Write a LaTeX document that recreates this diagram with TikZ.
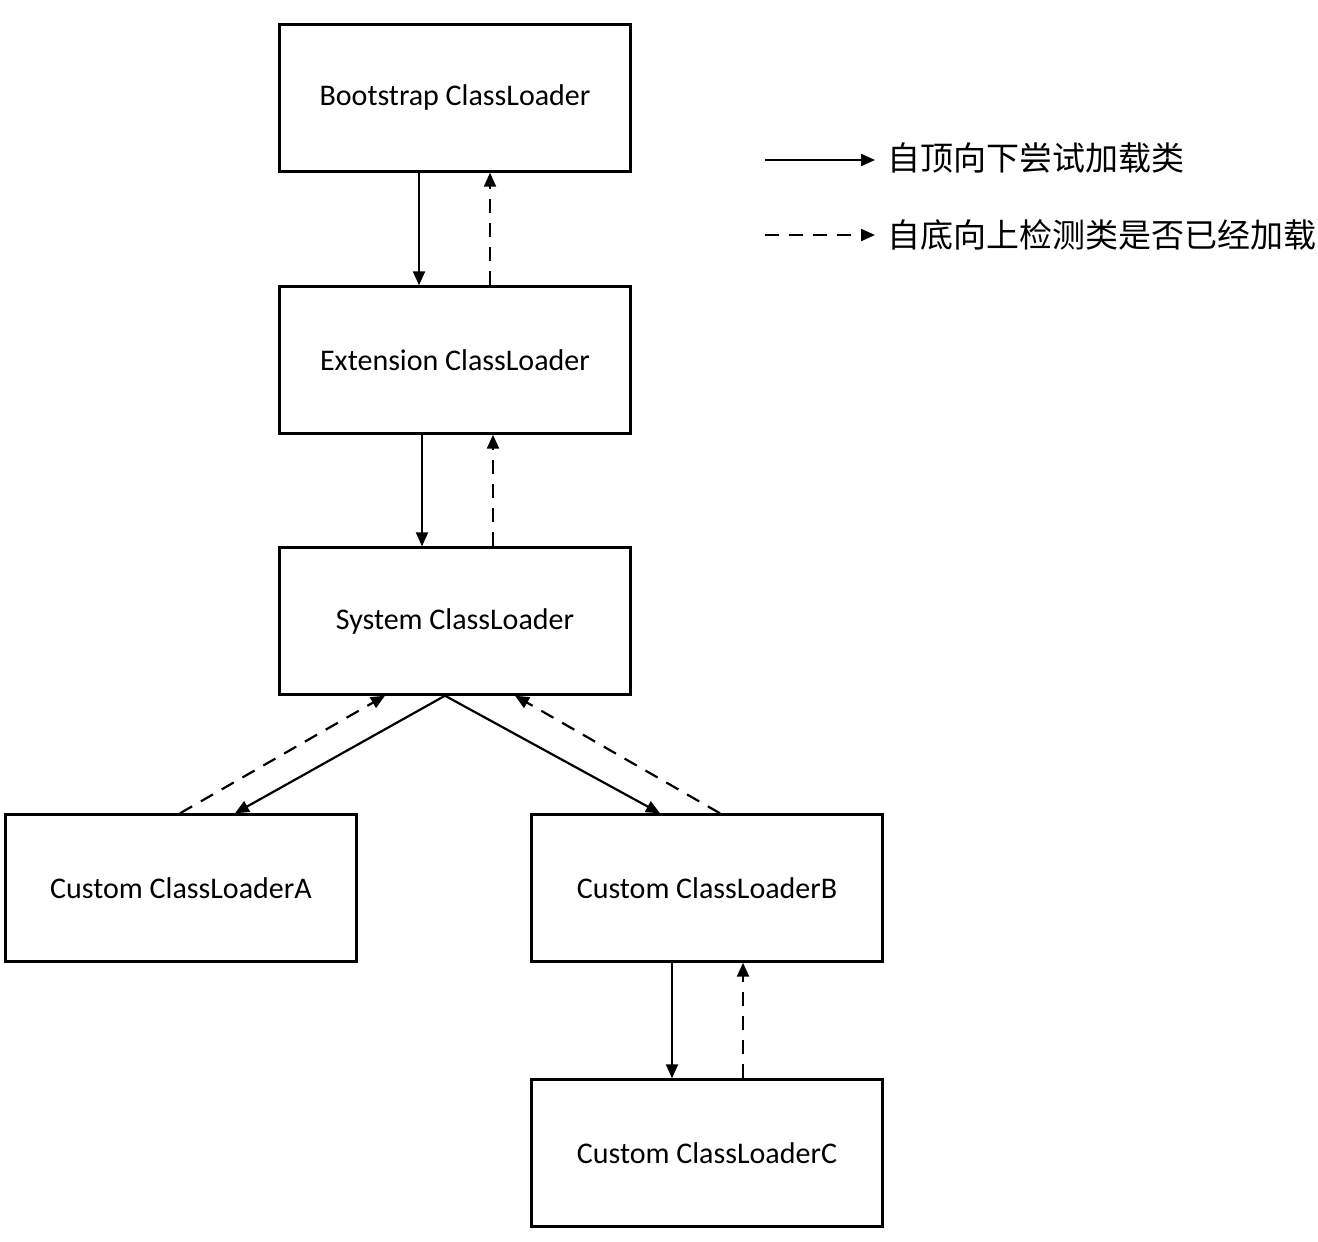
\documentclass[tikz,border=0pt]{standalone}
\usepackage{fontspec}
\setmainfont{Carlito}
\newfontfamily\cjk{Noto Sans CJK SC}
\usetikzlibrary{arrows.meta}
\begin{document}
\begin{tikzpicture}[x=0.5pt,y=-0.5pt,
  box/.style={draw,line width=1.2pt,minimum width=175.5pt,minimum height=73.5pt,inner sep=0pt,font=\fontsize{15}{18}\selectfont},
  con/.style={line width=1.1pt,-{Triangle[length=7pt,width=6pt]}},
  dsh/.style={con,dash pattern=on 7pt off 5pt},
  lab/.style={anchor=west,font=\cjk\fontsize{16.5}{20}\selectfont,inner sep=0pt}]
\useasboundingbox (0,0) rectangle (1318,1242);
\node[box] (boot) at (455,98) {Bootstrap ClassLoader};
\node[box] (ext) at (455,360) {Extension ClassLoader};
\node[box] (sys) at (455,621) {System ClassLoader};
\node[box] (a) at (181,888) {Custom ClassLoaderA};
\node[box] (b) at (707,888) {Custom ClassLoaderB};
\node[box] (c) at (707,1153) {Custom ClassLoaderC};
\draw[con] ([xshift=-18pt]boot.south) -- ([xshift=-18pt]ext.north);
\draw[dsh] ([xshift=17.5pt]ext.north) -- ([xshift=17.5pt]boot.south);
\draw[con] ([xshift=-16.5pt]ext.south) -- ([xshift=-16.5pt]sys.north);
\draw[dsh] ([xshift=19pt]sys.north) -- ([xshift=19pt]ext.south);
\coordinate (sp) at ([xshift=-5pt]sys.south);
\draw[con] (sp) -- ([xshift=27pt]a.north);
\draw[dsh] ([xshift=-0.5pt]a.north) -- ([xshift=-35pt]sys.south);
\draw[con] (sp) -- ([xshift=-23.5pt]b.north);
\draw[dsh] ([xshift=6.5pt]b.north) -- ([xshift=30pt]sys.south);
\draw[con] ([xshift=-17.5pt]b.south) -- ([xshift=-17.5pt]c.north);
\draw[dsh] ([xshift=18pt]c.north) -- ([xshift=18pt]b.south);
\coordinate (l1) at (765,160); \coordinate (l1e) at (875,160);
\coordinate (l2) at (765,235); \coordinate (l2e) at (875,235);
\draw[con] (l1) -- (l1e);
\draw[dsh] (l2) -- (l2e);
\node[lab] (t1) at (887,158) {自顶向下尝试加载类};
\node[lab] (t2) at (887,235) {自底向上检测类是否已经加载};
\end{tikzpicture}
\end{document}
